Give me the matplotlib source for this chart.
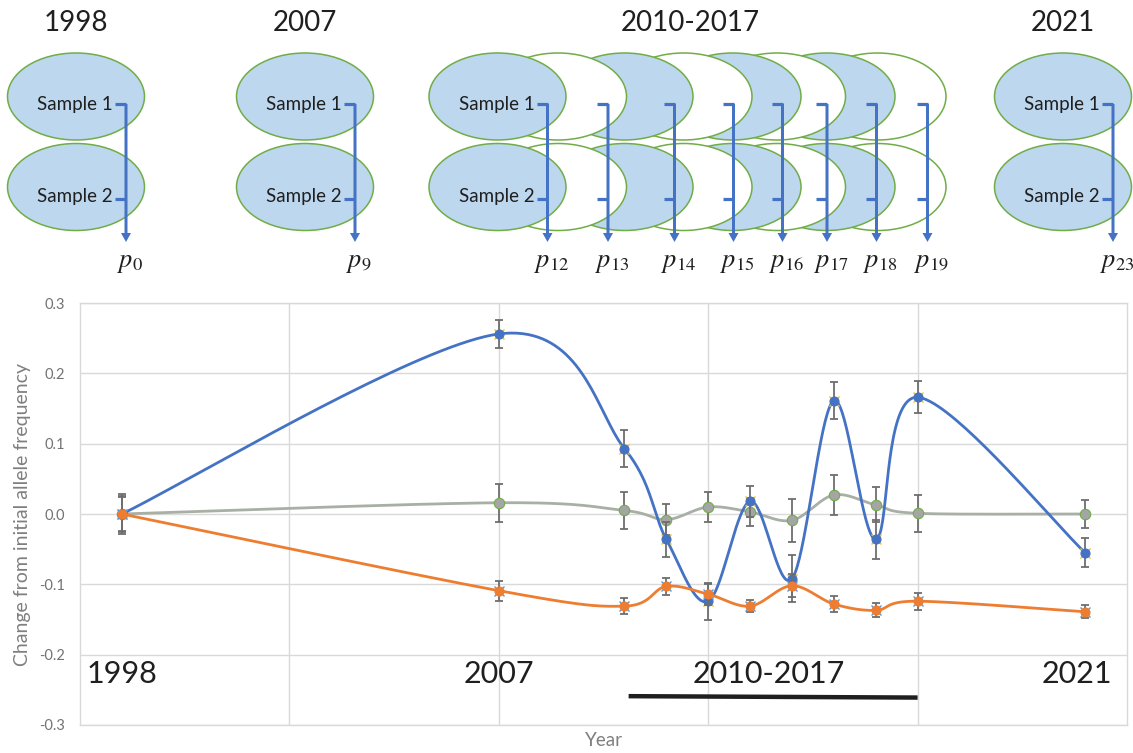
import numpy as np
import matplotlib
matplotlib.use('Agg')
import matplotlib.pyplot as plt
from matplotlib.patches import Ellipse

plt.rcParams['font.family'] = ['Lato', 'DejaVu Sans']
plt.rcParams['mathtext.fontset'] = 'stix'

# Data
years = [1998, 2007, 2010, 2011, 2012, 2013, 2014, 2015, 2016, 2017, 2021]
blue = [0, 0.256, 0.093, -0.036, -0.124, 0.018, -0.092, 0.161, -0.036, 0.166, -0.055]
blue_err = [0.028, 0.020, 0.026, 0.025, 0.026, 0.022, 0.033, 0.026, 0.028, 0.023, 0.021]
orange = [0, -0.109, -0.131, -0.103, -0.114, -0.131, -0.102, -0.128, -0.137, -0.124, -0.139]
orange_err = [0.024, 0.014, 0.011, 0.012, 0.015, 0.009, 0.016, 0.012, 0.010, 0.012, 0.009]
gray = [0, 0.016, 0.005, -0.008, 0.010, 0.003, -0.009, 0.027, 0.013, 0.001, 0.0]
gray_err = [0.026, 0.027, 0.026, 0.022, 0.021, 0.020, 0.031, 0.028, 0.025, 0.026, 0.020]

period_labels = ['1998', '2007', '2010-2017', '2021']
p_index = [0, 9, 12, 13, 14, 15, 16, 17, 18, 19, 23]

BLUE = '#4472C4'
ORANGE = '#ED7D31'
GRAY = '#A5A5A5'
GREEN = '#70AD47'
FILL = '#BDD7EE'
ERR = '#6E6E6E'
TXT = '#1F1F1F'


def smooth(x, y, n=40):
    # Excel style smoothed line (cubic Bezier / Catmull-Rom)
    pts = np.column_stack([x, y]).astype(float)
    P = np.vstack([pts[0], pts, pts[-1]])
    t = np.linspace(0, 1, n)[:, None]
    segs = []
    for i in range(1, len(P) - 2):
        p0, p1, p2, p3 = P[i - 1], P[i], P[i + 1], P[i + 2]
        c1 = p1 + (p2 - p0) / 6
        c2 = p2 - (p3 - p1) / 6
        segs.append((1 - t)**3 * p1 + 3 * (1 - t)**2 * t * c1 + 3 * (1 - t) * t**2 * c2 + t**3 * p2)
    return np.vstack(segs)


fig = plt.figure(figsize=(11.33, 7.53), dpi=100)

# ---- sampling diagram (pixel coordinates) ----
dax = fig.add_axes([0, 0, 1, 1])
dax.set_xlim(0, 1133)
dax.set_ylim(753, 0)
dax.axis('off')

centers = [76, 305, 497.5, 558, 624.5, 683.5, 732.5, 777, 826.5, 877.5, 1063]
fills = [FILL, FILL, FILL, 'white', FILL, 'white', FILL, 'white', FILL, 'white', FILL]
first_in_group = [0, 1, 2, 10]
title_x = [76, 305, 690, 1063]
ew, eh = 137, 87
row_y = [96.5, 187]

for i, (cx, fc) in enumerate(zip(centers, fills)):
    for ry in row_y:
        dax.add_patch(Ellipse((cx, ry), ew, eh, facecolor=fc, edgecolor=GREEN, lw=1.1, zorder=15 - i))
    bx = cx + 50
    dax.plot([bx - 11, bx], [104, 104], color=BLUE, lw=2.3, solid_capstyle='butt', zorder=30)
    dax.plot([bx - 11, bx], [199, 199], color=BLUE, lw=2.3, solid_capstyle='butt', zorder=30)
    dax.arrow(bx, 104, 0, 138, width=3, head_width=10, head_length=9, length_includes_head=True,
              color=BLUE, lw=0, zorder=30)
    dax.text(bx + 4, 262, r'$p_{%d}$' % p_index[i], ha='center', va='center', fontsize=19, color=TXT)
    if i in first_in_group:
        dax.text(bx - 13, 104, 'Sample 1', ha='right', va='center', fontsize=13.5, color=TXT, zorder=31)
        dax.text(bx - 13, 196, 'Sample 2', ha='right', va='center', fontsize=13.5, color=TXT, zorder=31)

for lab, tx in zip(period_labels, title_x):
    dax.text(tx, 23, lab, ha='center', va='center', fontsize=20, color=TXT)

# ---- chart ----
ax = fig.add_axes([80 / 1133, 28 / 753, 1047 / 1133, 422 / 753])
ax.set_xlim(1997, 2022)
ax.set_ylim(-0.3, 0.3)
ax.set_xticks([2002, 2007, 2012, 2017])
ax.set_xticklabels([])
yt = [-0.3, -0.2, -0.1, 0.0, 0.1, 0.2, 0.3]
ax.set_yticks(yt)
ax.set_yticklabels(['%.1f' % v for v in yt])
ax.tick_params(length=0)
ax.tick_params(axis='y', labelsize=10.5, labelcolor='#737373', pad=11)
ax.grid(True, color='#D9D9D9', lw=1)
ax.set_axisbelow(True)
for s in ax.spines.values():
    s.set_color('#D9D9D9')
    s.set_linewidth(1)

series = [
    (gray, gray_err, '#A8AFA5', GRAY, GREEN, None, 7.5),
    (blue, blue_err, BLUE, BLUE, BLUE, '#FFC000', 6.5),
    (orange, orange_err, ORANGE, ORANGE, ORANGE, '#5B9BD5', 6.5),
]
for k, (vals, errs, lc, mfc, mec, xc, ms) in enumerate(series):
    z = 3 + k * 3
    curve = smooth(years, vals)
    ax.plot(curve[:, 0], curve[:, 1], color=lc, lw=2.0, zorder=z)
    ax.errorbar(years, vals, yerr=errs, fmt='none', ecolor=ERR, elinewidth=1.3, capsize=3.2, capthick=1.3, zorder=z + 1)
    if xc:
        ax.plot(years, vals, 'x', color=xc, ms=7.5, mew=1, zorder=z + 1)
    ax.plot(years, vals, 'o', color=mfc, mec=mec, mew=0.8, ms=ms, zorder=z + 2)

for lab, xp in zip(period_labels, [1998, 2007.0, 2013.45, 2020.8]):
    ax.text(xp, -0.228, lab, ha='center', va='center', fontsize=22, color=TXT)
ax.plot([years[2] + 0.1, years[-2]], [-0.259, -0.261], color=TXT, lw=3.2, solid_capstyle='butt')

fig.text(23 / 1133, 1 - 514 / 753, 'Change from initial allele frequency', rotation=90,
         ha='center', va='center', fontsize=14, color='#7F7F7F')
fig.text(604 / 1133, 1 - 741 / 753, 'Year', ha='center', va='center', fontsize=13.5, color='#7F7F7F')

fig.savefig('out.png', dpi=100)
